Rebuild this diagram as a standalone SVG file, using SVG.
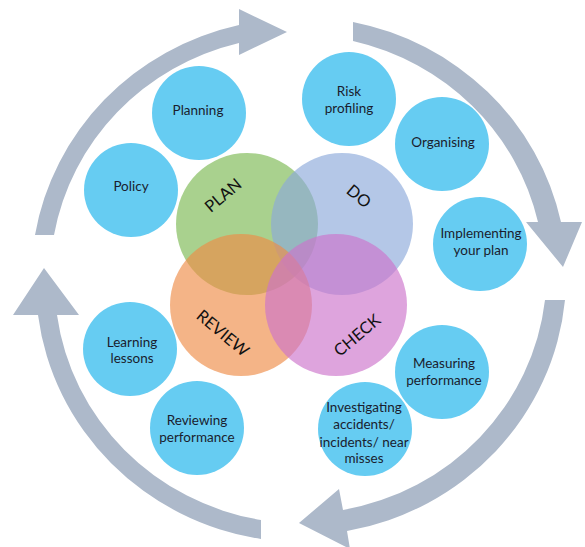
<svg xmlns="http://www.w3.org/2000/svg" width="585" height="547" viewBox="0 0 585 547">
<style>
.arrow{fill:#adb9ca;stroke:none}
.step{fill:#66ccf2}
.lbl{font-family:Lato,"Open Sans","Liberation Sans",sans-serif;font-size:13.5px;fill:#1a1d2e;text-anchor:middle}
.venn{opacity:0.65}
.vlbl{font-family:Lato,"Open Sans","Liberation Sans",sans-serif;font-size:16.5px;fill:#111;text-anchor:middle}
</style>
<rect width="585" height="547" fill="#ffffff"/>
<g id="connectors">
<path class="arrow" d="M35,235 A267 260 0 0 1 239,25 L239,9 L287,32 L239,55 L239,43 A248 241 0 0 0 54,235 Z"/>
<path class="arrow" d="M353,22 A267 260 0 0 1 561,222 L582,222 L563,267 L526,222 L538,222 A248 241 0 0 0 353,41 Z"/>
<path class="arrow" d="M565,300 A267 260 0 0 1 347,531 L350,549 L299,523 L339,489 L343,510 A248 241 0 0 0 545,300 Z"/>
<path class="arrow" d="M261,539 A267 260 0 0 1 38,315 L13,315 L44,268 L79,315 L57,315 A248 241 0 0 0 261,520 Z"/>
</g>
<g id="plan"><circle class="venn" cx="247" cy="224" r="71" fill="#7bb851"/></g>
<g id="do"><circle class="venn" cx="342" cy="224" r="71" fill="#8ca9da"/></g>
<g id="review"><circle class="venn" cx="241" cy="305" r="71" fill="#ee8c46"/></g>
<g id="check"><circle class="venn" cx="336" cy="305" r="71" fill="#cc73cb"/></g>
<g id="venn-labels">
<text class="vlbl" transform="translate(223,195) rotate(-40)" y="6">PLAN</text>
<text class="vlbl" transform="translate(359,196) rotate(40)" y="6">DO</text>
<text class="vlbl" transform="translate(223,333) rotate(40)" y="6">REVIEW</text>
<text class="vlbl" transform="translate(357,335) rotate(-40)" y="6">CHECK</text>
</g>
<g id="planning"><circle class="step" cx="199" cy="113" r="47"/><text class="lbl" x="198" y="115">Planning</text></g>
<g id="policy"><circle class="step" cx="131" cy="190" r="47"/><text class="lbl" x="131" y="191">Policy</text></g>
<g id="risk-profiling"><circle class="step" cx="349" cy="99" r="47"/><text class="lbl" x="349" y="96">Risk</text><text class="lbl" x="349" y="113">profiling</text></g>
<g id="organising"><circle class="step" cx="442" cy="144" r="47"/><text class="lbl" x="443" y="147">Organising</text></g>
<g id="implementing"><circle class="step" cx="480" cy="244" r="47"/><text class="lbl" x="481" y="238">Implementing</text><text class="lbl" x="481" y="255">your plan</text></g>
<g id="learning-lessons"><circle class="step" cx="130" cy="349" r="47"/><text class="lbl" x="132" y="347">Learning</text><text class="lbl" x="132" y="363">lessons</text></g>
<g id="reviewing-performance"><circle class="step" cx="197" cy="428" r="47"/><text class="lbl" x="197" y="425">Reviewing</text><text class="lbl" x="197" y="442">performance</text></g>
<g id="measuring-performance"><circle class="step" cx="442" cy="372" r="47"/><text class="lbl" x="444" y="368">Measuring</text><text class="lbl" x="444" y="385">performance</text></g>
<g id="investigating"><circle class="step" cx="365" cy="429" r="47"/><text class="lbl" x="364" y="412">Investigating</text><text class="lbl" x="364" y="429">accidents/</text><text class="lbl" x="364" y="447">incidents/ near</text><text class="lbl" x="364" y="463">misses</text></g>
</svg>
